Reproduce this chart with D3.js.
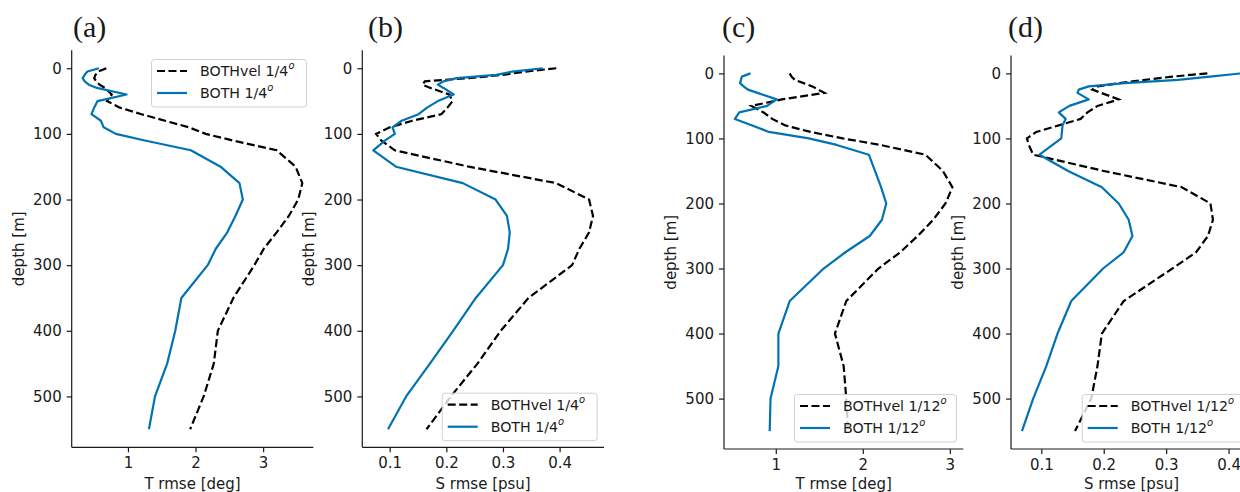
<!DOCTYPE html>
<html>
<head>
<meta charset="utf-8">
<script src="https://cdn.jsdelivr.net/npm/d3@7"></script>
<style>
  html, body { margin: 0; padding: 0; background: #fff; }
  svg { display: block; }
  text { font-family: "DejaVu Sans", sans-serif; fill: #1a1a1a; }
</style>
</head>
<body>
<svg id="fig" width="1240" height="492"></svg>
<script>
// Depth levels [m] shared by every profile
const depth = [0, 5, 10, 15, 20, 25, 30, 40, 50, 60, 70, 80, 90, 100, 110, 125,
               150, 175, 200, 225, 250, 275, 300, 350, 400, 450, 500, 550];

// (a) temperature rmse, 1/4 degree runs
const tBothvelQuarter = [0.68, 0.56, 0.52, 0.50, 0.53, 0.58, 0.66, 0.76, 0.69, 0.88, 1.20, 1.55, 1.90, 2.15,
                         2.55, 3.20, 3.48, 3.58, 3.52, 3.38, 3.20, 3.01, 2.87, 2.56, 2.33, 2.27, 2.12, 1.92];
const tBothQuarter    = [0.57, 0.40, 0.36, 0.33, 0.36, 0.42, 0.54, 0.98, 0.55, 0.50, 0.46, 0.60, 0.64, 0.82,
                         1.25, 1.93, 2.37, 2.65, 2.70, 2.59, 2.47, 2.30, 2.18, 1.79, 1.70, 1.58, 1.40, 1.31];

// (b) salinity rmse, 1/4 degree runs
const sBothvelQuarter = [0.394, 0.340, 0.300, 0.240, 0.162, 0.158, 0.172, 0.205, 0.211, 0.202, 0.191, 0.140, 0.100, 0.076,
                         0.085, 0.109, 0.240, 0.394, 0.452, 0.459, 0.452, 0.435, 0.422, 0.345, 0.296, 0.255, 0.208, 0.165];
const sBothQuarter    = [0.370, 0.317, 0.288, 0.218, 0.195, 0.185, 0.195, 0.213, 0.185, 0.166, 0.151, 0.121, 0.105, 0.109,
                         0.092, 0.071, 0.111, 0.229, 0.287, 0.307, 0.312, 0.309, 0.300, 0.252, 0.212, 0.171, 0.129, 0.097];

// (c) temperature rmse, 1/12 degree runs
const tBothvelTwelfth = [1.16, 1.18, 1.22, 1.32, 1.42, 1.49, 1.56, 1.07, 0.72, 0.86, 0.96, 1.11, 1.40, 1.77,
                         2.20, 2.72, 2.92, 3.03, 2.95, 2.81, 2.63, 2.43, 2.18, 1.81, 1.68, 1.78, 1.81, 1.83];
const tBothTwelfth    = [0.71, 0.61, 0.60, 0.59, 0.63, 0.68, 0.79, 1.01, 0.90, 0.58, 0.53, 0.73, 0.92, 1.38,
                         1.70, 2.07, 2.14, 2.21, 2.27, 2.22, 2.08, 1.80, 1.55, 1.16, 1.03, 1.03, 0.94, 0.93];

// (d) salinity rmse, 1/12 degree runs
const sBothvelTwelfth = [0.366, 0.310, 0.266, 0.225, 0.190, 0.182, 0.196, 0.224, 0.190, 0.174, 0.163, 0.128, 0.092, 0.077,
                         0.080, 0.087, 0.200, 0.325, 0.371, 0.375, 0.367, 0.348, 0.310, 0.232, 0.197, 0.190, 0.180, 0.154];
const sBothTwelfth    = [0.420, 0.370, 0.319, 0.234, 0.176, 0.160, 0.158, 0.176, 0.145, 0.128, 0.139, 0.134, 0.133, 0.132,
                         0.118, 0.097, 0.143, 0.197, 0.224, 0.240, 0.246, 0.232, 0.199, 0.148, 0.126, 0.108, 0.087, 0.069];

// Axis ticks and labels
const depthTicks = [0, 100, 200, 300, 400, 500];
const tTicks = [1, 2, 3];
const sTicks = [0.1, 0.2, 0.3, 0.4];
const panelTags = ["(a)", "(b)", "(c)", "(d)"];
const xLabels = ["T rmse [deg]", "S rmse [psu]", "T rmse [deg]", "S rmse [psu]"];
const yLabel = "depth [m]";
const seriesNames = ["BOTHvel", "BOTH"];
const resolutions = ["1/4", "1/4", "1/12", "1/12"];

const BLUE = "#0173b2";
const INK = "#1a1a1a";
const FS = "15px";

const panels = [
  { tag: panelTags[0], dashed: tBothvelQuarter, solid: tBothQuarter, ticks: tTicks, fmt: d3.format("d"),
    xl: xLabels[0], res: resolutions[0], box: {l: 71.7, r: 313.3, t: 50.2, b: 447.3}, tagX: 73,
    legend: {x: 151, y: 59, w: 155, h: 47.5} },
  { tag: panelTags[1], dashed: sBothvelQuarter, solid: sBothQuarter, ticks: sTicks, fmt: d3.format(".1f"),
    xl: xLabels[1], res: resolutions[1], box: {l: 362.3, r: 604, t: 50.2, b: 447.3}, tagX: 368,
    legend: {x: 441.7, y: 392.7, w: 155, h: 47.5} },
  { tag: panelTags[2], dashed: tBothvelTwelfth, solid: tBothTwelfth, ticks: tTicks, fmt: d3.format("d"),
    xl: xLabels[2], res: resolutions[2], box: {l: 724, r: 963.3, t: 55.5, b: 449}, tagX: 722,
    legend: {x: 794, y: 394, w: 162, h: 47.5} },
  { tag: panelTags[3], dashed: sBothvelTwelfth, solid: sBothTwelfth, ticks: sTicks, fmt: d3.format(".1f"),
    xl: xLabels[3], res: resolutions[3], box: {l: 1011, r: 1252, t: 55.5, b: 449}, tagX: 1008,
    legend: {x: 1081.7, y: 394, w: 162, h: 47.5} }
];

const svg = d3.select("#fig");

// Extend a data extent by 5% on each side
function padded(values) {
  const [lo, hi] = d3.extent(values);
  const m = (hi - lo) * 0.05;
  return [lo - m, hi + m];
}

panels.forEach((p, i) => {
  const { l, r, t, b } = p.box;
  const x = d3.scaleLinear().domain(padded(p.dashed.concat(p.solid))).range([l, r]);
  // depth grows downward
  const y = d3.scaleLinear().domain(padded(depth)).range([t, b]);

  const g = svg.append("g");

  const clipId = "clip" + i;
  g.append("clipPath").attr("id", clipId)
    .append("rect").attr("x", l).attr("y", t).attr("width", r - l).attr("height", b - t);

  // Profiles
  const line = d3.line().x(d => x(d[1])).y(d => y(d[0]));
  const plot = g.append("g").attr("clip-path", `url(#${clipId})`);
  plot.append("path")
    .datum(depth.map((d, k) => [d, p.dashed[k]]))
    .attr("d", line).attr("fill", "none")
    .attr("stroke", "#000").attr("stroke-width", 2.2)
    .attr("stroke-dasharray", "8,3.5");
  plot.append("path")
    .datum(depth.map((d, k) => [d, p.solid[k]]))
    .attr("d", line).attr("fill", "none")
    .attr("stroke", BLUE).attr("stroke-width", 2.2)
    .attr("stroke-linejoin", "round");

  // Axes: left and bottom spines only
  const yAxis = d3.axisLeft(y).tickValues(depthTicks).tickSize(5).tickPadding(5).tickFormat(d3.format("d"));
  const xAxis = d3.axisBottom(x).tickValues(p.ticks).tickSize(5).tickPadding(5).tickFormat(p.fmt);

  const ya = g.append("g").attr("transform", `translate(${l},0)`).call(yAxis);
  const xa = g.append("g").attr("transform", `translate(0,${b})`).call(xAxis);
  [ya, xa].forEach(a => {
    a.select(".domain").attr("stroke", INK).attr("stroke-width", 1.2);
    a.selectAll(".tick line").attr("stroke", INK).attr("stroke-width", 1.2);
    a.selectAll(".tick text").attr("fill", INK)
      .style("font-family", "'DejaVu Sans', sans-serif").style("font-size", FS);
  });
  // flat spine ends
  ya.select(".domain").attr("d", `M0,${t}V${b}`);
  xa.select(".domain").attr("d", `M${l},0H${r}`);

  // Axis labels
  g.append("text")
    .attr("x", (l + r) / 2).attr("y", 489)
    .attr("text-anchor", "middle")
    .style("font-size", FS)
    .text(p.xl);
  g.append("text")
    .attr("transform", `translate(${l - 53},${(t + b) / 2}) rotate(-90)`)
    .attr("text-anchor", "middle").attr("dominant-baseline", "central")
    .style("font-size", FS)
    .text(yLabel);

  // Panel tag
  svg.append("text")
    .attr("x", p.tagX).attr("y", 37)
    .style("font-family", "'Liberation Serif', 'Times New Roman', serif")
    .style("font-size", "30px").attr("fill", "#000")
    .text(p.tag);

  // Legend
  const lg = g.append("g").attr("transform", `translate(${p.legend.x},${p.legend.y})`);
  lg.append("rect")
    .attr("x", 0.5).attr("y", 0.5).attr("width", p.legend.w).attr("height", p.legend.h)
    .attr("rx", 3).attr("fill", "#fff").attr("fill-opacity", 0.8)
    .attr("stroke", "#d0d0d0").attr("stroke-width", 1);
  const rows = [
    { name: seriesNames[0], stroke: "#000", dash: "8,3.5" },
    { name: seriesNames[1], stroke: BLUE, dash: null }
  ];
  rows.forEach((row, k) => {
    const cy = 12 + k * 22;
    lg.append("line")
      .attr("x1", 6).attr("x2", 36).attr("y1", cy).attr("y2", cy)
      .attr("stroke", row.stroke).attr("stroke-width", 2.2)
      .attr("stroke-dasharray", row.dash);
    const tx = lg.append("text")
      .attr("x", 49).attr("y", cy).attr("dominant-baseline", "central")
      .style("font-size", "14.2px");
    tx.append("tspan").text(`${row.name} ${p.res}`);
    tx.append("tspan").attr("dy", -6).style("font-size", "10px").style("font-style", "italic").text("o");
  });
});
</script>
</body>
</html>
